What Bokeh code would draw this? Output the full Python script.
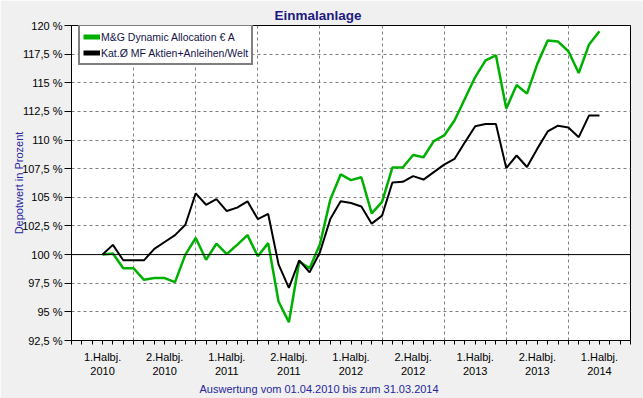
from bokeh.plotting import figure
from bokeh.models import Range1d, FixedTicker, Span, Legend, LegendItem, Title
from bokeh.embed import file_html
from bokeh.resources import INLINE

# month index 0 = 01.04.2010, 48 = 31.03.2014
months = list(range(49))
fund = [100.0, 100.1, 98.8, 98.8, 97.8, 97.95, 97.95, 97.6, 100.0, 101.45,
        99.55, 100.95, 100.05, 100.85, 101.7, 99.85, 101.0, 95.9, 94.1, 99.4,
        98.8, 100.9, 104.8, 107.0, 106.5, 106.75, 103.6, 104.6, 107.6, 107.6,
        108.7, 108.5, 109.9, 110.4, 111.7, 113.6, 115.5, 116.95, 117.4, 112.75,
        114.8, 114.05, 116.65, 118.7, 118.6, 117.75, 115.85, 118.35, 119.5]
peer = [100.0, 100.85, 99.5, 99.5, 99.5, 100.5, 101.1, 101.7, 102.6, 105.35,
        104.35, 104.85, 103.8, 104.1, 104.65, 103.1, 103.55, 99.15, 97.1, 99.5,
        98.45, 100.2, 103.1, 104.65, 104.5, 104.2, 102.7, 103.4, 106.3, 106.35,
        106.85, 106.55, 107.2, 107.85, 108.35, 109.8, 111.2, 111.4, 111.4, 107.55,
        108.65, 107.65, 109.25, 110.75, 111.25, 111.1, 110.25, 112.15, 112.15]

series_names = ["M&G Dynamic Allocation \u20ac A", "Kat.\u00d8 MF Aktien+Anleihen/Welt"]

period_bounds = [-3, 3, 9, 15, 21, 27, 33, 39, 45, 51]
period_centers = [0, 6, 12, 18, 24, 30, 36, 42, 48]
period_labels = ["1.Halbj.\n2010", "2.Halbj.\n2010", "1.Halbj.\n2011", "2.Halbj.\n2011",
                 "1.Halbj.\n2012", "2.Halbj.\n2012", "1.Halbj.\n2013", "2.Halbj.\n2013",
                 "1.Halbj.\n2014"]
month_ticks = list(range(-3, 52))

y_ticks = [92.5, 95.0, 97.5, 100.0, 102.5, 105.0, 107.5, 110.0, 112.5, 115.0, 117.5, 120.0]
y_labels = ["92,5 %", "95 %", "97,5 %", "100 %", "102,5 %", "105 %", "107,5 %",
            "110 %", "112,5 %", "115 %", "117,5 %", "120 %"]
y_grid = [95.0, 97.5, 102.5, 105.0, 107.5, 110.0, 112.5, 115.0, 117.5]

GREEN = "#00b000"
FONT = "Liberation Sans"
BLUE = "#2626a0"
NAN = float("nan")

p = figure(width=643, height=398, output_backend="svg", toolbar_location=None,
           x_range=Range1d(-3, 51), y_range=Range1d(92.5, 120),
           min_border_left=71, min_border_right=13, min_border_top=25, min_border_bottom=58)
p.border_fill_color = "#f0f0f0"
p.background_fill_color = "white"
p.outline_line_color = "black"
p.outline_line_width = 1

p.title.text = "Einmalanlage"
p.title.align = "left"
p.title.offset = 203
p.title.standoff = 6
p.title.text_font = FONT
p.title.text_font_size = "13.5px"
p.title.text_font_style = "bold"
p.title.text_color = "#201a80"

# axes
xa = p.xaxis[0]
xa.ticker = FixedTicker(ticks=period_centers, minor_ticks=month_ticks)
xa.major_label_overrides = {c: l for c, l in zip(period_centers, period_labels)}
xa.major_tick_line_color = None
xa.major_tick_out = 0
xa.major_tick_in = 0
xa.minor_tick_out = 4
xa.minor_tick_in = 0
xa.minor_tick_line_color = "black"
xa.axis_line_color = "black"
xa.major_label_standoff = 6
xa.major_label_text_font = FONT
xa.major_label_text_font_size = "11px"
xa.major_label_text_color = "black"

ya = p.yaxis[0]
ya.ticker = FixedTicker(ticks=y_ticks, minor_ticks=[])
ya.major_label_overrides = {t: l for t, l in zip(y_ticks, y_labels)}
ya.major_tick_out = 7
ya.major_tick_in = 0
ya.major_tick_line_color = "black"
ya.minor_tick_line_color = None
ya.axis_line_color = "black"
ya.major_label_standoff = 2
ya.major_label_text_font = FONT
ya.major_label_text_font_size = "11px"
ya.major_label_text_color = "black"
ya.axis_label = "Depotwert in Prozent"
ya.axis_label_text_font = FONT
ya.axis_label_text_font_size = "11px"
ya.axis_label_text_font_style = "normal"
ya.axis_label_text_color = BLUE
ya.axis_label_standoff = -6

# grids
p.xgrid.ticker = FixedTicker(ticks=period_bounds[1:-1])
p.ygrid.ticker = FixedTicker(ticks=y_grid)
for g in (p.xgrid[0], p.ygrid[0]):
    g.grid_line_color = "#808080"
    g.grid_line_dash = "3 3"
    g.grid_line_width = 1

p.add_layout(Span(location=100, dimension="width", line_color="black", line_width=1))

p.line(months, fund, line_color=GREEN, line_width=2.5)
p.line(months, peer, line_color="black", line_width=2)

# legend swatches (thick lines, nothing drawn in the plot)
s1 = p.line(x=[NAN], y=[NAN], line_color=GREEN, line_width=5)
s2 = p.line(x=[NAN], y=[NAN], line_color="black", line_width=5)
legend = Legend(items=[LegendItem(label=series_names[0], renderers=[s1], index=0),
                       LegendItem(label=series_names[1], renderers=[s2], index=0)],
                location=(7, 275), margin=0, padding=3, spacing=1,
                glyph_width=17, glyph_height=15, label_height=15, label_standoff=1,
                label_text_font=FONT, label_text_font_size="10.5px", label_text_color="#14144a",
                border_line_color="black", border_line_width=2,
                background_fill_color="white", background_fill_alpha=1)
p.add_layout(legend, "center")

sub = Title(text="Auswertung vom 01.04.2010 bis zum 31.03.2014", align="left", offset=128,
            standoff=2, text_font=FONT, text_font_size="11px", text_font_style="normal",
            text_color=BLUE)
p.add_layout(sub, "below")

open("out.html", "w").write(file_html(p, INLINE))
